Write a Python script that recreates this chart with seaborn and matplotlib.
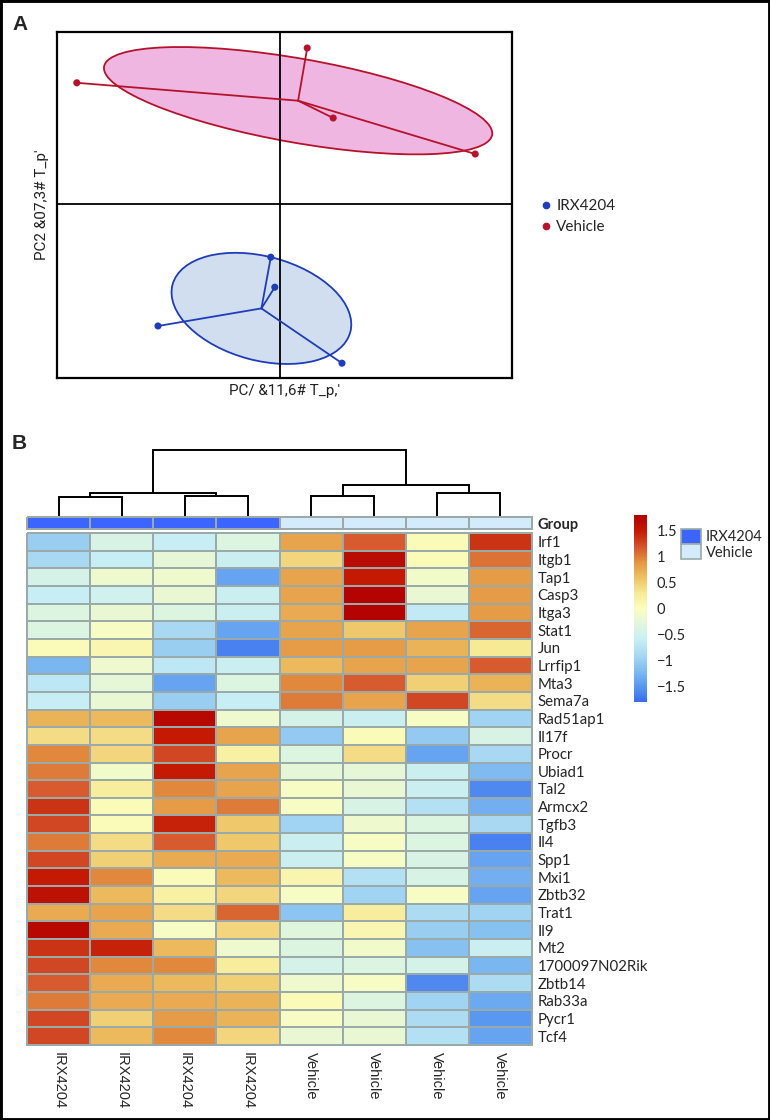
import numpy as np
import pandas as pd
import matplotlib
matplotlib.use("Agg")
import matplotlib.pyplot as plt
import seaborn as sns
from matplotlib.colors import LinearSegmentedColormap, ListedColormap
from matplotlib.patches import Ellipse, Patch, Rectangle
from matplotlib.lines import Line2D

# ---------------- Panel A data (PCA scores) ----------------
pca_group = ["IRX4204"] * 4 + ["Vehicle"] * 4
pca_t1 = [-3.05, -0.23, -0.13, 1.55, -5.08, 0.68, 1.33, 4.88]
pca_t2 = [-3.05, -1.33, -2.08, -3.98, 3.03, 3.90, 2.15, 1.25]
ell_groups = ["IRX4204", "Vehicle"]
ell_width = [4.6, 9.85]
ell_height = [2.6, 2.1]
ell_angle = [-15, -10]
x_label_a = "PC/ &11,6# T_p,'"
y_label_a = "PC2 &07,3# T_p'"

# ---------------- Panel B data (heatmap) ----------------
genes = ["Irf1", "Itgb1", "Tap1", "Casp3", "Itga3", "Stat1", "Jun", "Lrrfip1",
         "Mta3", "Sema7a", "Rad51ap1", "Il17f", "Procr", "Ubiad1", "Tal2",
         "Armcx2", "Tgfb3", "Il4", "Spp1", "Mxi1", "Zbtb32", "Trat1", "Il9",
         "Mt2", "1700097N02Rik", "Zbtb14", "Rab33a", "Pycr1", "Tcf4"]
sample_labels = ["IRX4204"] * 4 + ["Vehicle"] * 4
values = [
    [-1.00, -0.40, -0.60, -0.35, 0.80, 1.15, 0.05, 1.35],   # Irf1
    [-0.90, -0.60, -0.25, -0.55, 0.45, 1.65, 0.05, 1.05],   # Itgb1
    [-0.45, -0.15, -0.15, -1.40, 0.80, 1.50, -0.10, 0.85],  # Tap1
    [-0.60, -0.50, -0.20, -0.55, 0.80, 1.75, -0.20, 0.85],  # Casp3
    [-0.35, -0.20, -0.35, -0.55, 0.75, 1.75, -0.65, 0.85],  # Itga3
    [-0.35, -0.05, -0.90, -1.40, 0.80, 0.55, 0.80, 1.10],   # Stat1
    [0.05, 0.10, -1.00, -1.65, 0.85, 0.85, 0.70, 0.30],     # Jun
    [-1.25, -0.15, -0.70, -0.55, 0.65, 0.80, 0.80, 1.15],   # Lrrfip1
    [-0.70, -0.25, -1.40, -0.35, 0.95, 1.15, 0.50, 0.70],   # Mta3
    [-0.60, -0.20, -1.00, -0.60, 1.00, 0.80, 1.25, 0.40],   # Sema7a
    [0.70, 0.65, 1.70, -0.15, -0.45, -0.55, -0.05, -0.95],  # Rad51ap1
    [0.40, 0.40, 1.50, 0.80, -1.05, 0.05, -1.05, -0.40],    # Il17f
    [0.95, 0.45, 1.25, 0.20, -0.35, 0.40, -1.40, -0.90],    # Procr
    [1.00, -0.10, 1.50, 0.80, -0.25, -0.25, -0.55, -1.20],  # Ubiad1
    [1.15, 0.25, 0.95, 0.80, -0.05, -0.20, -0.55, -1.60],   # Tal2
    [1.35, 0.05, 0.85, 1.00, -0.05, -0.40, -0.80, -1.30],   # Armcx2
    [1.25, 0.05, 1.45, 0.55, -0.95, -0.15, -0.35, -0.90],   # Tgfb3
    [1.00, 0.40, 1.15, 0.55, -0.55, -0.05, -0.35, -1.65],   # Il4
    [1.25, 0.50, 0.75, 0.75, -0.55, -0.05, -0.40, -1.40],   # Spp1
    [1.50, 0.95, 0.05, 0.65, 0.12, -0.80, -0.40, -1.30],    # Mxi1
    [1.60, 0.65, 0.20, 0.45, -0.05, -0.95, -0.05, -1.40],   # Zbtb32
    [0.75, 0.80, 0.40, 1.10, -1.10, 0.25, -0.85, -0.95],    # Trat1
    [1.70, 0.75, -0.05, 0.45, -0.30, 0.10, -1.00, -1.15],   # Il9
    [1.35, 1.45, 0.65, -0.15, -0.35, -0.10, -1.15, -0.55],  # Mt2
    [1.25, 0.95, 0.95, 0.25, -0.45, -0.35, -0.45, -1.25],   # 1700097N02Rik
    [1.15, 0.75, 0.65, 0.50, -0.15, -0.05, -1.60, -0.85],   # Zbtb14
    [1.00, 0.75, 0.75, 0.70, 0.05, -0.35, -0.95, -1.35],    # Rab33a
    [1.25, 0.50, 0.85, 0.70, -0.05, -0.20, -0.85, -1.50],   # Pycr1
    [1.25, 0.65, 0.95, 0.45, -0.20, -0.20, -0.80, -1.40],   # Tcf4
]
# column dendrogram: (child_a, child_b, height); leaves 0..7, new nodes 8+
merges = [(0, 1, 19), (2, 3, 20), (4, 5, 20), (6, 7, 23),
          (8, 9, 22.7), (10, 11, 31), (12, 13, 66)]
cbar_ticks = [-1.5, -1, -0.5, 0, 0.5, 1, 1.5]
cbar_tick_labels = ["\u22121.5", "\u22121", "\u22120.5", "0", "0.5", "1", "1.5"]
group_names = ["IRX4204", "Vehicle"]

# ---------------- styles ----------------
sns.set_theme(style="white")
plt.rcParams["font.family"] = ["Lato", "DejaVu Sans"]
pal_pts = {"IRX4204": "#1f3cbb", "Vehicle": "#b5122b"}
pal_fill = {"IRX4204": "#d0def0", "Vehicle": "#efb6e2"}
grp_colors = ["#3c64ff", "#d4ebfb"]
grid_col = "#9aaaa8"
cmap = LinearSegmentedColormap.from_list("hm", [
    (0.0, "#3a6cf0"), (1/12, "#5a98f0"), (2/12, "#80bcf0"), (3/12, "#a8d8f2"),
    (4/12, "#c8eef5"), (5/12, "#e0f6dc"), (6/12, "#fbfdc0"), (7/12, "#f6ea96"),
    (8/12, "#eec264"), (9/12, "#e49440"), (10/12, "#d4502a"), (11/12, "#c41a04"),
    (1.0, "#b00000")])

W, H = 770, 1120
fig = plt.figure(figsize=(W / 100, H / 100), dpi=100)
fig.patch.set_facecolor("white")


def box(l, t, r, b):
    return [l / W, 1 - b / H, (r - l) / W, (b - t) / H]


# ---------------- Panel A ----------------
axA = fig.add_axes(box(57, 32, 512, 378))
dfA = pd.DataFrame({"t1": pca_t1, "t2": pca_t2, "group": pca_group})
for g, w, h, a in zip(ell_groups, ell_width, ell_height, ell_angle):
    sub = dfA[dfA.group == g]
    cx, cy = sub.t1.mean(), sub.t2.mean()
    axA.add_patch(Ellipse((cx, cy), w, h, angle=a, facecolor=pal_fill[g],
                          edgecolor=pal_pts[g], lw=1.3, zorder=1))
    for _, r in sub.iterrows():
        axA.plot([cx, r.t1], [cy, r.t2], color=pal_pts[g], lw=1.3, zorder=3)
axA.axhline(0, color="black", lw=1.3, zorder=2)
axA.axvline(0, color="black", lw=1.3, zorder=2)
sns.scatterplot(data=dfA, x="t1", y="t2", hue="group", palette=pal_pts, s=26,
                edgecolor="none", legend=False, ax=axA, zorder=5)
axA.set_xlim(-5.575, 5.8)
axA.set_ylim(-4.35, 4.3)
axA.set_xticks([])
axA.set_yticks([])
for s in axA.spines.values():
    s.set_visible(True)
    s.set_color("black")
    s.set_linewidth(1.6)
narrow = ["Liberation Sans Narrow", "Roboto", "DejaVu Sans"]
axA.set_xlabel(x_label_a, fontsize=11, family=narrow, color="#222222", labelpad=4)
axA.set_ylabel(y_label_a, fontsize=11, family=narrow, color="#222222", labelpad=6)
handlesA = [Line2D([], [], ls="none", marker="o", ms=4.5, color=pal_pts[g]) for g in group_names]
fig.legend(handlesA, group_names, loc="upper left", bbox_to_anchor=(541 / W, 1 - 199 / H),
           frameon=False, fontsize=11, handlelength=0.6, handletextpad=0.4,
           labelspacing=0.45, borderpad=0, borderaxespad=0)

# ---------------- Panel B ----------------
# dendrogram
axD = fig.add_axes(box(27, 450, 532, 516))
node_x = {i: i + 0.5 for i in range(len(sample_labels))}
node_h = {i: 0.0 for i in range(len(sample_labels))}
for k, (a, b, h) in enumerate(merges):
    xa, xb = node_x[a], node_x[b]
    axD.plot([xa, xa, xb, xb], [node_h[a], h, h, node_h[b]], color="black",
             lw=1.4, clip_on=False, solid_joinstyle="miter")
    nid = len(sample_labels) + k
    node_x[nid] = (xa + xb) / 2
    node_h[nid] = h
axD.set_xlim(0, len(sample_labels))
axD.set_ylim(0, max(m[2] for m in merges))
axD.axis("off")

# group bar
axG = fig.add_axes(box(27, 517, 532, 529))
group_codes = np.array([[group_names.index(g) for g in sample_labels]])
sns.heatmap(group_codes, ax=axG, cmap=ListedColormap(grp_colors), vmin=0, vmax=1,
            cbar=False, linewidths=1.1, linecolor=grid_col,
            xticklabels=False, yticklabels=["Group"])
axG.collections[0].set_clip_on(False)
axG.yaxis.tick_right()
axG.tick_params(axis="y", length=0, pad=4, labelrotation=0, labelsize=10.5)
for t in axG.get_yticklabels():
    t.set_fontweight("bold")
    t.set_ha("left")

# heatmap
axH = fig.add_axes(box(27, 533, 532, 1045))
axC = fig.add_axes(box(634, 515, 647, 702))
dfH = pd.DataFrame(values, index=genes)
sns.heatmap(dfH, ax=axH, cmap=cmap, vmin=-1.8, vmax=1.8, linewidths=1.1,
            linecolor=grid_col, cbar_ax=axC, cbar_kws={"ticks": cbar_ticks},
            xticklabels=sample_labels, yticklabels=genes)
axH.collections[0].set_clip_on(False)
axH.yaxis.tick_right()
axH.tick_params(axis="y", length=0, pad=4, labelrotation=0, labelsize=10.8)
for t in axH.get_yticklabels():
    t.set_ha("left")
axH.tick_params(axis="x", length=0, pad=5, labelsize=10.5)
for t in axH.get_xticklabels():
    t.set_rotation(270)
    t.set_ha("center")
    t.set_va("top")
    t.set_family(["Liberation Sans", "DejaVu Sans"])
cb = axH.collections[0].colorbar
cb.outline.set_visible(False)
cb.set_ticks(cbar_ticks)
cb.set_ticklabels(cbar_tick_labels)
axC.tick_params(length=0, pad=7, labelsize=10.5)

# group legend
handlesB = [Patch(facecolor=c, edgecolor=grid_col, lw=1.2) for c in grp_colors]
fig.legend(handlesB, group_names, loc="upper left", bbox_to_anchor=(681 / W, 1 - 529 / H),
           frameon=False, fontsize=10.5, handlelength=1.35, handleheight=1.2,
           handletextpad=0.35, labelspacing=0.0, borderpad=0, borderaxespad=0)

# panel letters and frame
fig.text(12 / W, 1 - 24 / H, "A", fontsize=15, fontweight="bold", va="center",
         family=["Liberation Sans", "DejaVu Sans"])
fig.text(12 / W, 1 - 444 / H, "B", fontsize=15, fontweight="bold", va="center",
         family=["Liberation Sans", "DejaVu Sans"])
fig.patches.append(Rectangle((0, 0), 1, 1, transform=fig.transFigure, fill=False,
                             edgecolor="black", lw=3.5))

fig.savefig("out.png", dpi=100)
